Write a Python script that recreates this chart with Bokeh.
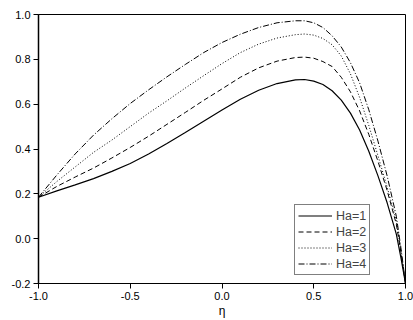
from bokeh.plotting import figure
from bokeh.models import Range1d, FixedTicker, NumeralTickFormatter, Legend, LegendItem, Label
from bokeh.embed import file_html
from bokeh.resources import INLINE

eta = [-1.0, -0.9, -0.8, -0.7, -0.6, -0.5, -0.4, -0.3, -0.2, -0.1, 0.0, 0.1, 0.2, 0.3,
       0.4, 0.45, 0.5, 0.55, 0.6, 0.65, 0.7, 0.75, 0.8, 0.85, 0.9, 0.95, 0.975, 1.0]
f_ha1 = [0.185, 0.213, 0.24, 0.268, 0.3, 0.335, 0.378, 0.425, 0.474, 0.524, 0.574, 0.622, 0.662, 0.692,
         0.708, 0.71, 0.703, 0.688, 0.66, 0.618, 0.56, 0.485, 0.39, 0.28, 0.16, 0.02, -0.085, -0.2]
f_ha2 = [0.185, 0.233, 0.275, 0.315, 0.36, 0.407, 0.457, 0.51, 0.563, 0.617, 0.668, 0.72, 0.762, 0.792,
         0.808, 0.81, 0.805, 0.79, 0.768, 0.72, 0.655, 0.57, 0.465, 0.345, 0.215, 0.065, -0.06, -0.2]
f_ha3 = [0.185, 0.255, 0.32, 0.385, 0.44, 0.5, 0.56, 0.615, 0.672, 0.727, 0.781, 0.83, 0.868, 0.895,
         0.91, 0.913, 0.908, 0.893, 0.865, 0.815, 0.735, 0.63, 0.505, 0.37, 0.23, 0.08, -0.055, -0.2]
f_ha4 = [0.185, 0.284, 0.378, 0.462, 0.535, 0.603, 0.664, 0.722, 0.777, 0.83, 0.875, 0.912, 0.942, 0.963,
         0.972, 0.972, 0.963, 0.942, 0.905, 0.855, 0.785, 0.695, 0.575, 0.435, 0.28, 0.1, -0.04, -0.2]

series_labels = ["Ha=1", "Ha=2", "Ha=3", "Ha=4"]
x_ticks = [-1.0, -0.5, 0.0, 0.5, 1.0]
y_ticks = [-0.2, 0.0, 0.2, 0.4, 0.6, 0.8, 1.0]

p = figure(width=413, height=320, output_backend="svg", toolbar_location=None,
           x_range=Range1d(-1.0, 1.0), y_range=Range1d(-0.2, 1.0),
           min_border_left=38, min_border_right=8, min_border_top=14, min_border_bottom=36)
p.grid.visible = False
p.outline_line_color = "black"
p.outline_line_width = 1
p.background_fill_color = "white"
p.border_fill_color = "white"

for ax in (p.xaxis[0], p.yaxis[0]):
    ax.major_label_text_font = "Liberation Sans"
    ax.major_label_text_font_size = "11px"
    ax.major_label_text_color = "black"
    ax.major_tick_out = 5
    ax.major_tick_in = 0
    ax.minor_tick_out = 0
    ax.minor_tick_in = 0
    ax.axis_line_color = "black"
    ax.major_tick_line_color = "black"
    ax.formatter = NumeralTickFormatter(format="0.0")

p.xaxis.ticker = FixedTicker(ticks=x_ticks)
p.yaxis.ticker = FixedTicker(ticks=y_ticks)
p.yaxis.axis_line_width = 1.5
p.xaxis.major_label_standoff = 3
p.yaxis.major_label_standoff = 3
p.xaxis.axis_label = "η"
p.xaxis.axis_label_text_font = "Liberation Sans"
p.xaxis.axis_label_text_font_style = "normal"
p.xaxis.axis_label_text_font_size = "12px"
p.xaxis.axis_label_text_color = "black"
p.xaxis.axis_label_standoff = 1

ylab = Label(x=-1.0, y=0.32, x_offset=-21, text="f", text_font="Liberation Sans",
             text_font_size="12px", text_align="center", text_baseline="middle",
             text_color="black")
p.add_layout(ylab)

styles = [("solid", 1.2), ("5 3", 1.0), ("1 2", 1.0), ("6 2 1 2", 1.0)]
data = [f_ha1, f_ha2, f_ha3, f_ha4]
items = []
for lab, ys, (dash, w) in zip(series_labels, data, styles):
    r = p.line(eta, ys, line_color="black", line_width=w, line_dash=dash)
    items.append(LegendItem(label=lab, renderers=[r]))

legend = Legend(items=items, location=(256, 8), padding=3, spacing=1, margin=0,
                glyph_width=34, glyph_height=15, label_height=15, label_standoff=4,
                label_text_font="Liberation Sans", label_text_font_size="12.5px",
                border_line_color="black", border_line_width=1, background_fill_alpha=1)
p.add_layout(legend)

open("out.html", "w").write(file_html(p, INLINE))
